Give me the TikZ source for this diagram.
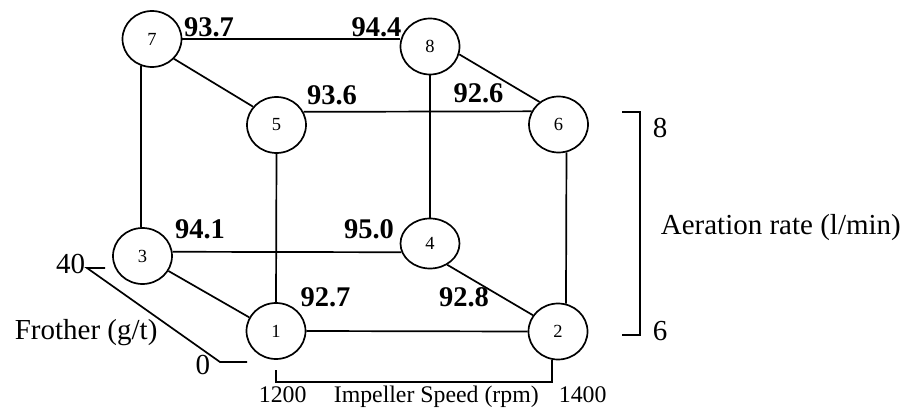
\documentclass[tikz,border=0pt]{standalone}
\usepackage{fontspec}
\setmainfont{Liberation Serif}
\usetikzlibrary{shapes.geometric}
\begin{document}
\begin{tikzpicture}[x=1pt,y=-1pt, line width=1.7pt,
  run/.style={ellipse, draw, inner sep=0pt, minimum width=59pt, minimum height=56pt, font=\fontsize{18.5}{18.5}\selectfont},
  val/.style={inner sep=0pt, font=\fontsize{28.5}{28.5}\selectfont\bfseries},
  lab/.style={inner sep=0pt, font=\fontsize{29}{29}\selectfont},
  small/.style={inner sep=0pt, font=\fontsize{23.8}{23.8}\selectfont}]
\useasboundingbox (0,0) rectangle (904,409);

% runs
\node[run] (n7) at (152,39) {7};
\node[run] (n8) at (430,46.5) {8};
\node[run] (n5) at (276.5,125) {5};
\node[run] (n6) at (558.5,124.5) {6};
\node[run] (n3) at (142.5,256) {3};
\node[run, minimum height=50pt] (n4) at (430,243.5) {4};
\node[run] (n1) at (276,331) {1};
\node[run] (n2) at (558,331.5) {2};

% edges
\draw (n7.east) -- (n7.east -| n8.west);
\draw (n5.26) -- (n6.154);
\draw (n3.8) -- (n4.197);
\draw (n1.east) -- (n2.west);
\draw (n7.248) -- (n7.248 |- n3.north);
\draw (n5.south) -- (n1.north);
\draw (n8.south) -- (n4.north);
\draw (n6.286) -- (n2.74);
\draw (n7.-42) -- (n5.142);
\draw (n8.-15) -- (n6.130);
\draw (n3.-30) -- (n1.153);
\draw (n4.-51) -- (n2.147);

% values
\node[val] (v93p7) at (209,27) {93.7};
\node[val] (v94p4) at (376.5,27) {94.4};
\node[val] (v93p6) at (332,95) {93.6};
\node[val] (v92p6) at (478.5,93.5) {92.6};
\node[val] (v94p1) at (200,229) {94.1};
\node[val] (v95p0) at (369,229) {95.0};
\node[val] (v92p7) at (325.5,297.5) {92.7};
\node[val] (v92p8) at (464,297.5) {92.8};

% aeration axis
\coordinate (a8l) at (622,112);
\coordinate (a8) at (640,112);
\coordinate (a6) at (640,335);
\coordinate (a6l) at (622,335);
\draw (a8l) -- (a8) -- (a6) -- (a6l);
\node[lab, anchor=base west] (t8) at (652,137) {8};
\node[lab, anchor=base west] (t6) at (652,340) {6};
\node[lab, anchor=base west] (taer) at (660,234) {Aeration rate (l/min)};

% frother axis
\coordinate (f40r) at (105,268);
\coordinate (f40) at (87,268);
\coordinate (f0) at (220,362);
\coordinate (f0r) at (247,362);
\draw (f40r) -- (f40) -- (f0) -- (f0r);
\node[lab, anchor=base east] (t40) at (86,273) {40};
\node[lab, anchor=base east] (t0) at (211,374) {0};
\node[lab, anchor=base west] (tfro) at (14,339) {Frother (g/t)};

% impeller axis
\coordinate (i1) at (276,370);
\coordinate (i1b) at (276,382);
\coordinate (i2b) at (552,382);
\coordinate (i2) at (552,360);
\draw (i1) -- (i1b) -- (i2b) -- (i2);
\node[small, anchor=base west] (t1200) at (258,402) {1200};
\node[small, anchor=base west] (timp) at (333,402) {Impeller Speed (rpm)};
\node[small, anchor=base west] (t1400) at (558,402) {1400};
\end{tikzpicture}
\end{document}
